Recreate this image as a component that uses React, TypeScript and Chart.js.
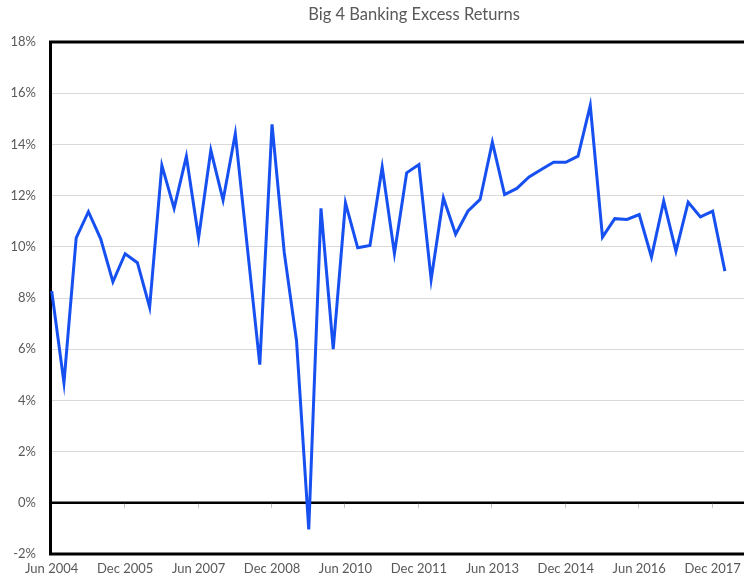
import React, { useEffect, useRef } from "react";
import { Chart, registerables } from "chart.js";

Chart.register(...registerables);

const title = "Big 4 Banking Excess Returns";

const quarters: string[] = [
  "Jun 2004", "Sep 2004", "Dec 2004", "Mar 2005", "Jun 2005", "Sep 2005", "Dec 2005", "Mar 2006",
  "Jun 2006", "Sep 2006", "Dec 2006", "Mar 2007", "Jun 2007", "Sep 2007", "Dec 2007", "Mar 2008",
  "Jun 2008", "Sep 2008", "Dec 2008", "Mar 2009", "Jun 2009", "Sep 2009", "Dec 2009", "Mar 2010",
  "Jun 2010", "Sep 2010", "Dec 2010", "Mar 2011", "Jun 2011", "Sep 2011", "Dec 2011", "Mar 2012",
  "Jun 2012", "Sep 2012", "Dec 2012", "Mar 2013", "Jun 2013", "Sep 2013", "Dec 2013", "Mar 2014",
  "Jun 2014", "Sep 2014", "Dec 2014", "Mar 2015", "Jun 2015", "Sep 2015", "Dec 2015", "Mar 2016",
  "Jun 2016", "Sep 2016", "Dec 2016", "Mar 2017", "Jun 2017", "Sep 2017", "Dec 2017", "Mar 2018",
];

const excessReturns: number[] = [
  8.27, 4.69, 10.35, 11.37, 10.31, 8.63, 9.73, 9.38,
  7.64, 13.18, 11.5, 13.53, 10.35, 13.77, 11.82, 14.42,
  9.9, 5.4, 14.78, 9.77, 6.33, -1.04, 11.5, 6.0,
  11.72, 9.96, 10.05, 13.11, 9.74, 12.89, 13.21, 8.72,
  11.91, 10.49, 11.39, 11.85, 14.09, 12.04, 12.28, 12.73,
  13.02, 13.3, 13.3, 13.54, 15.52, 10.38, 11.1, 11.07,
  11.26, 9.6, 11.78, 9.83, 11.74, 11.17, 11.39, 9.05,
];

const xTickIndices: number[] = [0, 6, 12, 18, 24, 30, 36, 42, 48, 54];
const yTicks: number[] = [-2, 0, 2, 4, 6, 8, 10, 12, 14, 16, 18];

const FONT = "Lato, 'Open Sans', sans-serif";
const TEXT = "#595959";

const framePlugin = {
  id: "frame",
  beforeDatasetsDraw(chart: any) {
    const { ctx, chartArea, scales } = chart;
    const { left, right, top, bottom } = chartArea;
    ctx.save();
    const y0 = scales.y.getPixelForValue(0);
    ctx.strokeStyle = "#000";
    ctx.lineWidth = 2.5;
    ctx.beginPath();
    ctx.moveTo(left, y0);
    ctx.lineTo(right, y0);
    ctx.stroke();
    ctx.strokeStyle = "#bfbfbf";
    ctx.lineWidth = 1;
    xTickIndices.forEach((i) => {
      if (i === 0) return;
      const x = Math.round(scales.x.getPixelForValue(i)) - 0.5;
      ctx.beginPath();
      ctx.moveTo(x, y0 + 1);
      ctx.lineTo(x, y0 + 5);
      ctx.stroke();
    });
    ctx.strokeStyle = "#000";
    ctx.lineWidth = 3;
    ctx.beginPath();
    ctx.moveTo(right, top);
    ctx.lineTo(left + 0.5, top);
    ctx.lineTo(left + 0.5, bottom);
    ctx.lineTo(right, bottom);
    ctx.stroke();
    ctx.restore();
  },
  afterDraw(chart: any) {
    const { ctx } = chart;
    ctx.save();
    ctx.fillStyle = TEXT;
    ctx.font = "16.5px " + FONT;
    ctx.textAlign = "center";
    ctx.textBaseline = "middle";
    ctx.fillText(title, 414, 15);
    ctx.restore();
  },
};

export default function App() {
  const ref = useRef<HTMLCanvasElement | null>(null);

  useEffect(() => {
    if (!ref.current) return;
    const chart = new Chart(ref.current, {
      type: "line",
      data: {
        datasets: [
          {
            label: title,
            data: excessReturns.map((v, i) => ({ x: i, y: v })),
            borderColor: "#1650F0",
            borderWidth: 3,
            pointRadius: 0,
            tension: 0,
            fill: false,
          },
        ],
      },
      options: {
        animation: false,
        responsive: false,
        maintainAspectRatio: false,
        layout: { padding: { top: 42, left: 0, right: 0, bottom: 0 } },
        plugins: {
          legend: { display: false },
          title: { display: false },
          tooltip: { enabled: false },
        },
        scales: {
          x: {
            type: "linear",
            min: -0.14,
            max: 56.56,
            grid: { display: false, drawTicks: false },
            border: { display: false },
            afterFit: (s: any) => {
              s.height = 26;
              s.paddingLeft = 0;
              s.paddingRight = 0;
            },
            afterBuildTicks: (s: any) => {
              s.ticks = xTickIndices.map((v) => ({ value: v }));
            },
            ticks: {
              autoSkip: false,
              maxRotation: 0,
              padding: 7,
              color: TEXT,
              font: { family: FONT, size: 13 },
              callback: (v: any) => quarters[Number(v)] ?? "",
            },
          },
          y: {
            type: "linear",
            min: -2,
            max: 18,
            grid: {
              drawTicks: false,
              color: (c: any) => {
                const v = c.tick ? c.tick.value : null;
                return v === 0 || v === 18 || v === -2 ? "rgba(0,0,0,0)" : "#d9d9d9";
              },
              lineWidth: 1,
            },
            border: { display: false },
            afterFit: (s: any) => {
              s.width = 50;
              s.paddingTop = 0;
              s.paddingBottom = 0;
            },
            afterBuildTicks: (s: any) => {
              s.ticks = yTicks.map((v) => ({ value: v }));
            },
            ticks: {
              padding: 14,
              color: TEXT,
              font: { family: FONT, size: 13 },
              callback: (v: any) => `${v}%`,
            },
          },
        },
      },
      plugins: [framePlugin],
    });
    return () => chart.destroy();
  }, []);

  return (
    <div style={{ position: "fixed", left: 0, top: 0, width: 744, height: 580, background: "#fff" }}>
      <canvas ref={ref} width={744} height={580} style={{ display: "block", width: 744, height: 580 }} />
    </div>
  );
}
